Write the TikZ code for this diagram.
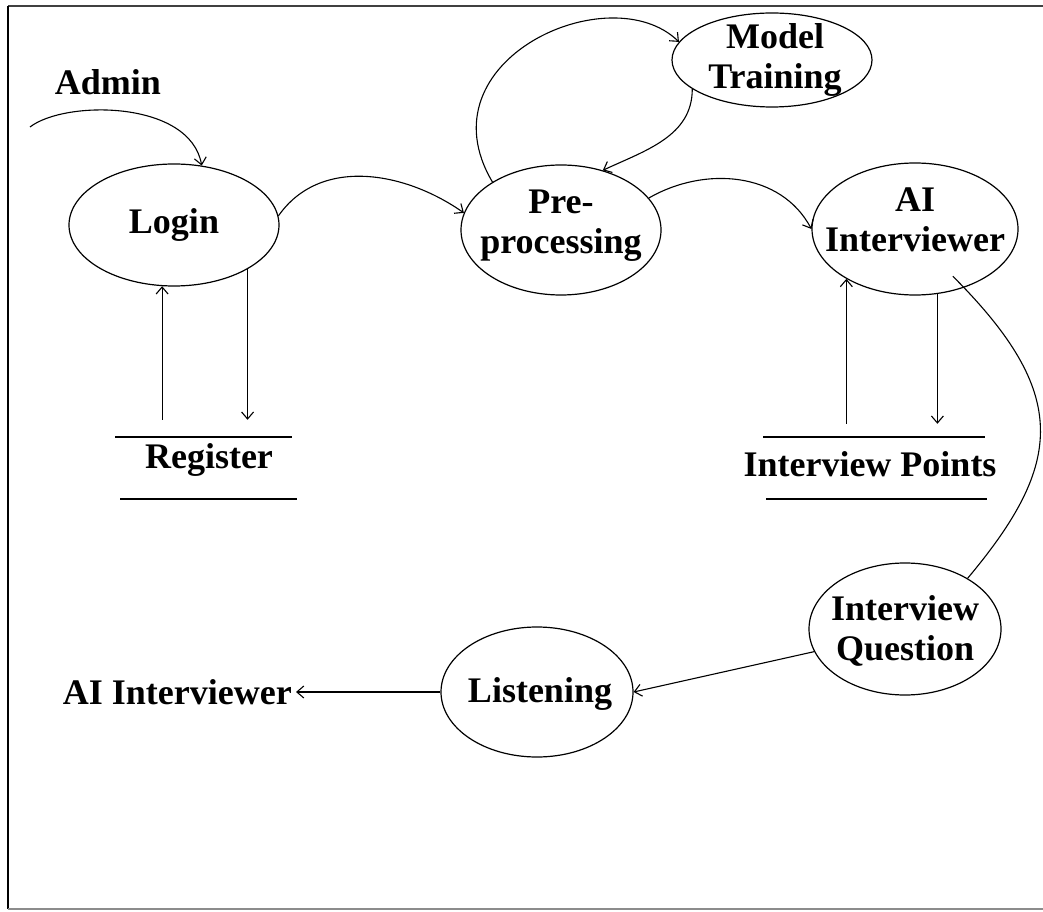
\documentclass[tikz,border=0pt]{standalone}
\usepackage{fontspec}
\setmainfont{Liberation Serif}
\usetikzlibrary{shapes.geometric,arrows.meta,calc}
\begin{document}
\begin{tikzpicture}[x=1pt,y=1pt,
  proc/.style={ellipse, draw, line width=1.2pt, inner sep=0pt},
  lbl/.style={inner sep=0pt, align=center, font=\bfseries\fontsize{36}{40}\selectfont},
  flow/.style={line width=1.1pt, -{Straight Barb[length=7pt,width=12pt]}},
  plain/.style={line width=1.1pt},
  store/.style={line width=1.4pt}]
\useasboundingbox (0,0) rectangle (1043,911);
\fill[white] (0,0) rectangle (1043,911);
\draw[line width=2pt, black!75] (8,905) -- (1043,905);
\draw[line width=2pt] (8,905) -- (8,2);
\draw[line width=2pt, black!45] (8,2) -- (1043,2);

\node[proc, minimum width=210pt, minimum height=122pt, label={[lbl]center:Login}] (login) at (174,686) {};
\node[proc, minimum width=200pt, minimum height=130pt, label={[lbl,yshift=4pt]center:Pre-\\processing}] (pre) at (561,681) {};
\node[proc, minimum width=200pt, minimum height=94pt, label={[lbl,xshift=3pt]center:Model\\Training}] (model) at (772,851) {};
\node[proc, minimum width=206pt, minimum height=132pt, label={[lbl,yshift=9pt]center:AI\\Interviewer}] (ai) at (915,682) {};
\node[proc, minimum width=192pt, minimum height=132pt, label={[lbl,yshift=-2pt]center:Interview\\Question}] (iq) at (905,282) {};
\node[proc, minimum width=192pt, minimum height=130pt, label={[lbl,xshift=3pt,yshift=-2pt]center:Listening}] (lis) at (537,219) {};

\node[lbl] (admin) at (108,829) {Admin};
\node[lbl, minimum height=80pt] (reg) at (209,451) {Register};
\node[lbl, minimum height=80pt] (ip) at (870,447) {Interview Points};
\node[lbl, anchor=east, inner sep=4pt] (aitxt) at (296,219) {AI Interviewer};

\draw[store] (115,474) -- (292,474);
\draw[store] (120,412) -- (297,412);
\draw[store] (763,474) -- (985,474);
\draw[store] (766,412) -- (987,412);

\coordinate (adminstart) at (30,784);
\draw[flow] (adminstart) .. controls (65,811) and (190,811) .. (login.65);
\draw[flow] (login.5) to[out=55,in=145] (pre.170);
\draw[flow] (pre.145) .. controls (420,851) and (610,936) .. (model.169);
\draw[flow] (model.200) to[out=-90,in=25] (pre.55);
\draw[flow] (pre.20) to[out=30,in=118] (ai.west);
\draw[flow] (ai.216 |- ip.north) -- (ai.216);
\draw[flow] (ai.289) -- (ai.289 |- ip.north);
\draw[flow] (login.259 |- reg.north) -- (login.259);
\draw[flow] (login.329) -- (login.329 |- reg.north);
\draw[plain, shorten <=-16pt] (ai.310) to[out=-45,in=50,distance=150pt] (iq.39);
\draw[flow] (iq.194) -- (lis.east);
\draw[flow] (lis.west) -- (aitxt.east);
\end{tikzpicture}
\end{document}
